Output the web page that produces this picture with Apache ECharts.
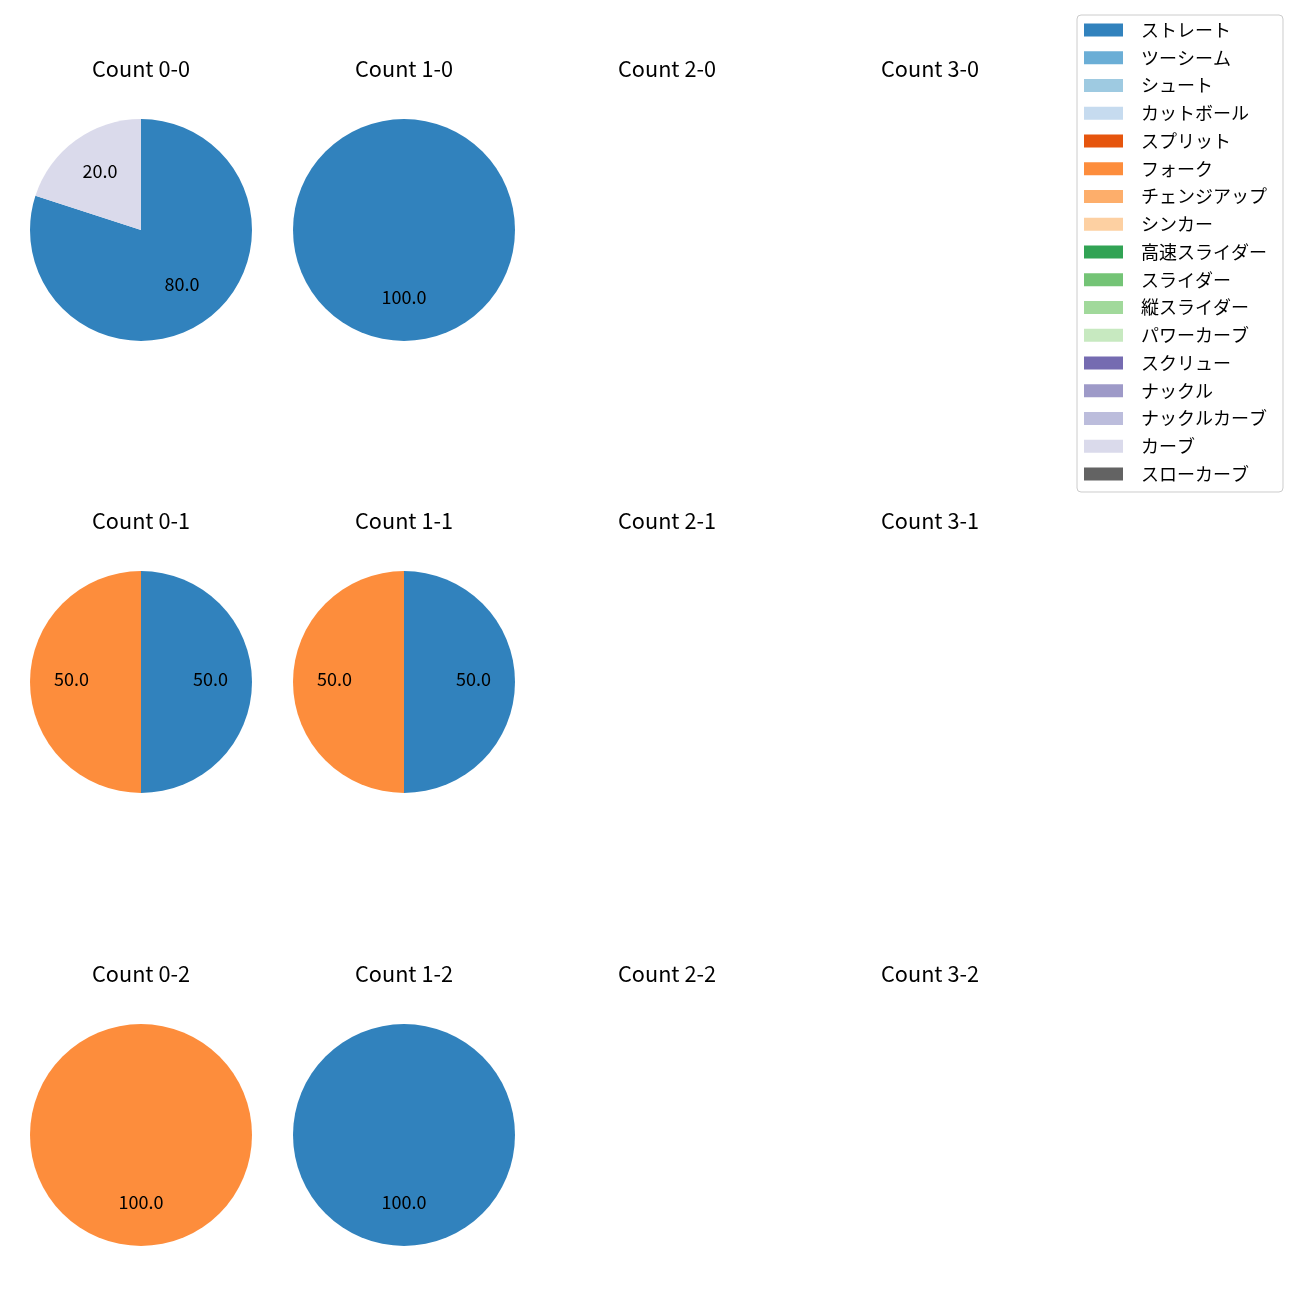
<!DOCTYPE html>
<html>
<head>
<meta charset="utf-8">
<script src="https://cdn.jsdelivr.net/npm/echarts@6/dist/echarts.min.js"></script>
<style>html,body{margin:0;padding:0;background:#fff}#c{width:1300px;height:1300px}</style>
</head>
<body>
<div id="c"></div>
<script>
// Pitch types (legend order) and their colours
const pitchTypes = ['ストレート','ツーシーム','シュート','カットボール','スプリット','フォーク','チェンジアップ','シンカー','高速スライダー','スライダー','縦スライダー','パワーカーブ','スクリュー','ナックル','ナックルカーブ','カーブ','スローカーブ'];
const pitchColors = ['#3182bd','#6baed6','#9ecae1','#c6dbef','#e6550d','#fd8d3c','#fdae6b','#fdd0a2','#31a354','#74c476','#a1d99b','#c7e9c0','#756bb1','#9e9ac8','#bcbddc','#dadaeb','#636363'];

// Counts (balls-strikes), in grid order: row = strikes, column = balls
const counts = ['0-0','1-0','2-0','3-0','0-1','1-1','2-1','3-1','0-2','1-2','2-2','3-2'];

// Share (%) of each pitch type per count; types not listed are 0
const straightShare = [80, 100, 0, 0, 50, 50, 0, 0, 0, 100, 0, 0];
const forkShare     = [0, 0, 0, 0, 50, 50, 0, 0, 100, 0, 0, 0];
const curveShare    = [20, 0, 0, 0, 0, 0, 0, 0, 0, 0, 0, 0];

const shareByType = {'ストレート': straightShare, 'フォーク': forkShare, 'カーブ': curveShare};

const FONT = 'Noto Sans CJK JP';
const colX = [141, 404, 667, 930];
const rowY = [230, 682, 1135];
const titleY = [69, 521, 974];
const R = 111;

const chart = echarts.init(document.getElementById('c'), null, {renderer: 'canvas'});
const series = [];
const titles = [];

counts.forEach((cnt, i) => {
  const col = i % 4, row = Math.floor(i / 4);
  titles.push({
    text: 'Count ' + cnt,
    left: colX[col], top: titleY[row] - 11, padding: 0,
    textAlign: 'center',
    textStyle: {fontFamily: FONT, fontSize: 21.7, fontWeight: 'normal', color: '#000'}
  });
  const data = [];
  pitchTypes.forEach((t, k) => {
    const arr = shareByType[t];
    if (arr && arr[i] > 0) data.push({name: t, value: arr[i], itemStyle: {color: pitchColors[k]}});
  });
  if (!data.length) return;
  const total = data.reduce((s, d) => s + d.value, 0);
  series.push({
    type: 'pie', center: [colX[col], rowY[row]], radius: [0, R],
    startAngle: 90, clockwise: true, silent: true, animation: false,
    label: {show: false}, labelLine: {show: false},
    emphasis: {disabled: true},
    data: data
  });
  // label layer: inside labels sit at half radius of this transparent ring (=0.6R)
  series.push({
    type: 'pie', center: [colX[col], rowY[row]], radius: [0, R * 1.2],
    startAngle: 90, clockwise: true, silent: true, animation: false,
    legendHoverLink: false,
    itemStyle: {color: 'rgba(0,0,0,0)'},
    label: {show: true, position: 'inside',
      formatter: p => '{v|' + (p.value / total * 100).toFixed(1) + '}\n{s|}',
      rich: {
        v: {fontFamily: FONT, fontSize: 18, color: '#000', lineHeight: 22},
        s: {fontSize: 1, lineHeight: 5}
      }},
    labelLine: {show: false},
    emphasis: {disabled: true},
    data: data.map(d => ({name: d.name + '\u200b', value: d.value}))
  });
});

// legend carrier (no visible slices)
series.push({
  type: 'pie', center: [-500, -500], radius: [0, 1], silent: true, animation: false,
  stillShowZeroSum: false, label: {show: false}, labelLine: {show: false},
  data: pitchTypes.map((t, k) => ({name: t, value: 0, itemStyle: {color: pitchColors[k]}}))
});

chart.setOption({
  backgroundColor: '#fff',
  animation: false,
  title: titles,
  legend: {
    orient: 'vertical', left: 1077, top: 15,
    data: pitchTypes,
    itemWidth: 39, itemHeight: 13, itemGap: 9.75,
    padding: [6, 16, 9, 7],
    borderColor: '#cccccc', borderWidth: 1, borderRadius: 4,
    backgroundColor: 'rgba(255,255,255,0.8)',
    selectedMode: false,
    icon: 'rect',
    textStyle: {fontFamily: FONT, fontSize: 18, color: '#000', padding: [0, 0, 0, 13]}
  },
  series: series
});
</script>
</body>
</html>
